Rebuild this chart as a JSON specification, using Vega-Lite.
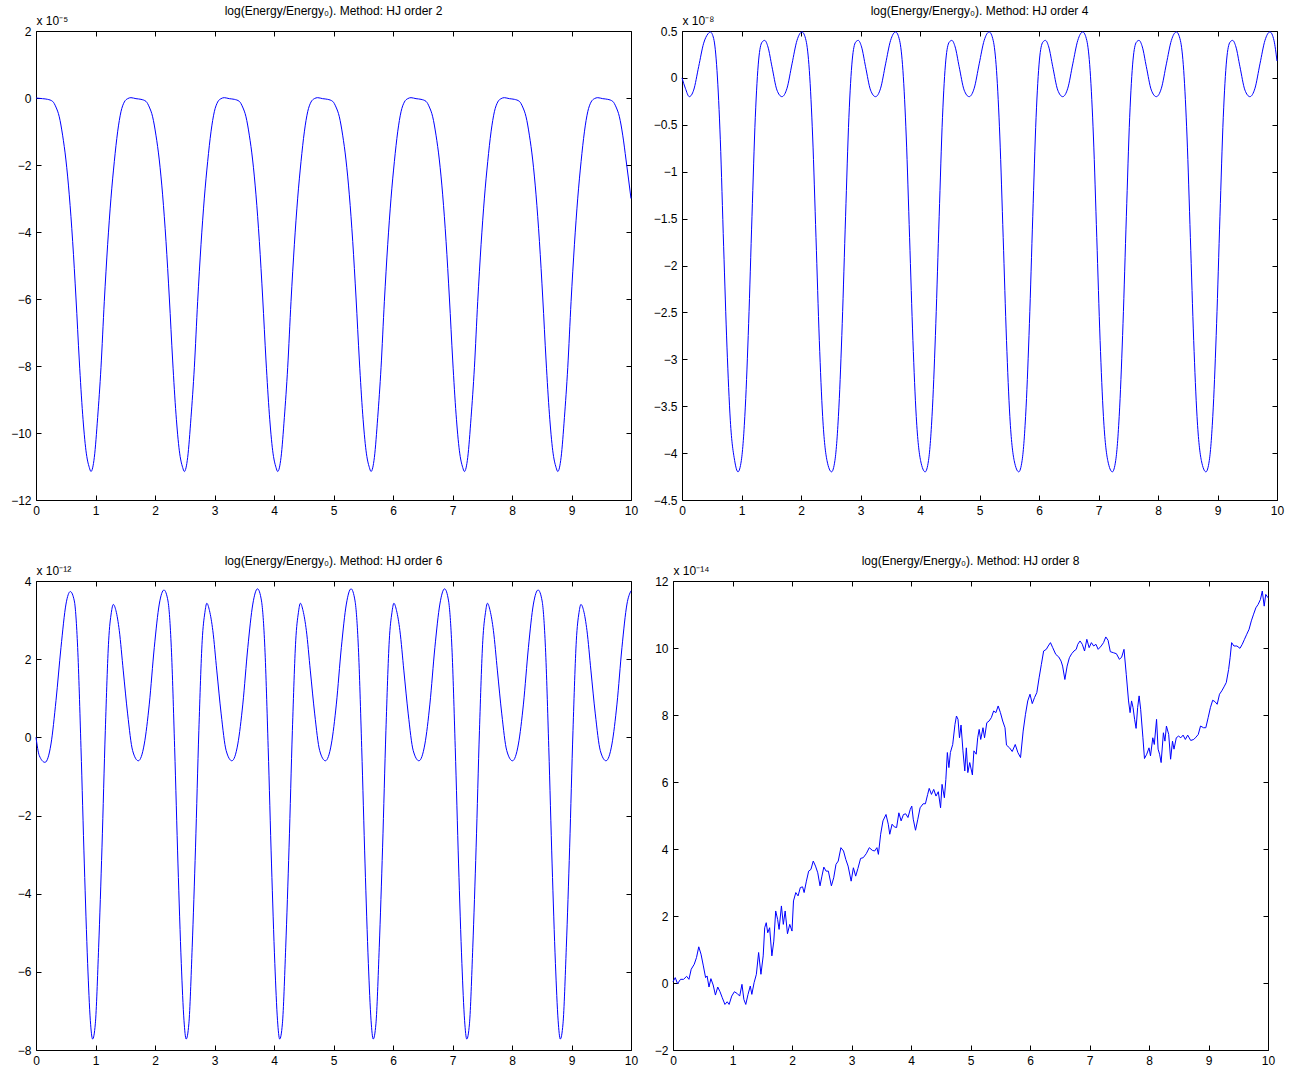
{
"$schema": "https://vega.github.io/schema/vega-lite/v6.json",
"padding": {"left": 10, "top": 4, "right": 5, "bottom": 5},
"background": "white",
"config": {
  "font": "Liberation Sans",
  "view": {"stroke": "#000", "strokeWidth": 1},
  "axis": {"grid": false, "domain": false, "ticks": true, "tickSize": -5, "tickColor": "#000", "tickWidth": 1, "labelFont": "Liberation Sans", "labelFontSize": 12, "labelColor": "#000", "labelPadding": 10, "labelFlush": false, "labelOverlap": false, "titleFont": "Liberation Sans", "titleFontSize": 12, "titleFontWeight": "normal", "titleColor": "#000"},
  "title": {"font": "Liberation Sans", "fontSize": 12, "fontWeight": "normal", "color": "#000", "anchor": "middle", "offset": -4}
},
"datasets": {
"p1": [
{"x":0,"y":0},{"x":0.111,"y":-0.02},{"x":0.195,"y":-0.04},{"x":0.279,"y":-0.1},{"x":0.335,"y":-0.27},{"x":0.391,"y":-0.56},{"x":0.447,"y":-1.11},{"x":0.503,"y":-1.85},{"x":0.559,"y":-2.89},{"x":0.616,"y":-4.28},{"x":0.672,"y":-5.97},{"x":0.728,"y":-7.85},{"x":0.784,"y":-9.44},{"x":0.84,"y":-10.53},{"x":0.896,"y":-11.03},{"x":0.924,"y":-11.15},
{"x":0.98,"y":-10.73},{"x":1.036,"y":-9.54},{"x":1.092,"y":-8.05},{"x":1.148,"y":-6.07},{"x":1.204,"y":-4.38},{"x":1.26,"y":-2.99},{"x":1.316,"y":-1.9},{"x":1.372,"y":-1.01},{"x":1.428,"y":-0.41},{"x":1.484,"y":-0.12},{"x":1.54,"y":-0.02},{"x":1.596,"y":0.01},{"x":1.68,"y":-0.02},{"x":1.764,"y":-0.04},{"x":1.848,"y":-0.1},{"x":1.904,"y":-0.27},{"x":1.96,"y":-0.56},{"x":2.016,"y":-1.11},{"x":2.072,"y":-1.85},{"x":2.128,"y":-2.89},{"x":2.185,"y":-4.28},{"x":2.241,"y":-5.97},{"x":2.297,"y":-7.85},{"x":2.353,"y":-9.44},{"x":2.409,"y":-10.53},{"x":2.465,"y":-11.03},{"x":2.493,"y":-11.15},
{"x":2.549,"y":-10.73},{"x":2.605,"y":-9.54},{"x":2.661,"y":-8.05},{"x":2.717,"y":-6.07},{"x":2.773,"y":-4.38},{"x":2.829,"y":-2.99},{"x":2.885,"y":-1.9},{"x":2.941,"y":-1.01},{"x":2.997,"y":-0.41},{"x":3.053,"y":-0.12},{"x":3.109,"y":-0.02},{"x":3.165,"y":0.01},{"x":3.249,"y":-0.02},{"x":3.333,"y":-0.04},{"x":3.417,"y":-0.1},{"x":3.473,"y":-0.27},{"x":3.529,"y":-0.56},{"x":3.585,"y":-1.11},{"x":3.641,"y":-1.85},{"x":3.697,"y":-2.89},{"x":3.754,"y":-4.28},{"x":3.81,"y":-5.97},{"x":3.866,"y":-7.85},{"x":3.922,"y":-9.44},{"x":3.978,"y":-10.53},{"x":4.034,"y":-11.03},{"x":4.062,"y":-11.15},
{"x":4.118,"y":-10.73},{"x":4.174,"y":-9.54},{"x":4.23,"y":-8.05},{"x":4.286,"y":-6.07},{"x":4.342,"y":-4.38},{"x":4.398,"y":-2.99},{"x":4.454,"y":-1.9},{"x":4.51,"y":-1.01},{"x":4.566,"y":-0.41},{"x":4.622,"y":-0.12},{"x":4.678,"y":-0.02},{"x":4.734,"y":0.01},{"x":4.818,"y":-0.02},{"x":4.902,"y":-0.04},{"x":4.986,"y":-0.1},{"x":5.042,"y":-0.27},{"x":5.098,"y":-0.56},{"x":5.154,"y":-1.11},{"x":5.21,"y":-1.85},{"x":5.266,"y":-2.89},{"x":5.323,"y":-4.28},{"x":5.379,"y":-5.97},{"x":5.435,"y":-7.85},{"x":5.491,"y":-9.44},{"x":5.547,"y":-10.53},{"x":5.603,"y":-11.03},{"x":5.631,"y":-11.15},
{"x":5.687,"y":-10.73},{"x":5.743,"y":-9.54},{"x":5.799,"y":-8.05},{"x":5.855,"y":-6.07},{"x":5.911,"y":-4.38},{"x":5.967,"y":-2.99},{"x":6.023,"y":-1.9},{"x":6.079,"y":-1.01},{"x":6.135,"y":-0.41},{"x":6.191,"y":-0.12},{"x":6.247,"y":-0.02},{"x":6.303,"y":0.01},{"x":6.387,"y":-0.02},{"x":6.471,"y":-0.04},{"x":6.555,"y":-0.1},{"x":6.611,"y":-0.27},{"x":6.667,"y":-0.56},{"x":6.723,"y":-1.11},{"x":6.779,"y":-1.85},{"x":6.835,"y":-2.89},{"x":6.892,"y":-4.28},{"x":6.948,"y":-5.97},{"x":7.004,"y":-7.85},{"x":7.06,"y":-9.44},{"x":7.116,"y":-10.53},{"x":7.172,"y":-11.03},{"x":7.2,"y":-11.15},
{"x":7.256,"y":-10.73},{"x":7.312,"y":-9.54},{"x":7.368,"y":-8.05},{"x":7.424,"y":-6.07},{"x":7.48,"y":-4.38},{"x":7.536,"y":-2.99},{"x":7.592,"y":-1.9},{"x":7.648,"y":-1.01},{"x":7.704,"y":-0.41},{"x":7.76,"y":-0.12},{"x":7.816,"y":-0.02},{"x":7.872,"y":0.01},{"x":7.956,"y":-0.02},{"x":8.04,"y":-0.04},{"x":8.124,"y":-0.1},{"x":8.18,"y":-0.27},{"x":8.236,"y":-0.56},{"x":8.292,"y":-1.11},{"x":8.348,"y":-1.85},{"x":8.404,"y":-2.89},{"x":8.461,"y":-4.28},{"x":8.517,"y":-5.97},{"x":8.573,"y":-7.85},{"x":8.629,"y":-9.44},{"x":8.685,"y":-10.53},{"x":8.741,"y":-11.03},{"x":8.769,"y":-11.15},
{"x":8.825,"y":-10.73},{"x":8.881,"y":-9.54},{"x":8.937,"y":-8.05},{"x":8.993,"y":-6.07},{"x":9.049,"y":-4.38},{"x":9.105,"y":-2.99},{"x":9.161,"y":-1.9},{"x":9.217,"y":-1.01},{"x":9.273,"y":-0.41},{"x":9.329,"y":-0.12},{"x":9.385,"y":-0.02},{"x":9.441,"y":0.01},{"x":9.525,"y":-0.02},{"x":9.609,"y":-0.04},{"x":9.693,"y":-0.1},{"x":9.749,"y":-0.27},{"x":9.805,"y":-0.56},{"x":9.861,"y":-1.11},{"x":9.917,"y":-1.85},{"x":10,"y":-3.0}
],
"p2": [
{"x":0,"y":0},{"x":0.056,"y":-0.11},{"x":0.123,"y":-0.2},{"x":0.196,"y":-0.13},{"x":0.28,"y":0.12},{"x":0.364,"y":0.37},{"x":0.437,"y":0.47},{"x":0.476,"y":0.49},{"x":0.532,"y":0.42},{"x":0.588,"y":0.08},{"x":0.644,"y":-0.66},{"x":0.7,"y":-1.8},{"x":0.756,"y":-2.87},{"x":0.812,"y":-3.65},{"x":0.885,"y":-4.08},{"x":0.941,"y":-4.2},
{"x":0.997,"y":-4.08},{"x":1.064,"y":-3.51},{"x":1.12,"y":-2.62},{"x":1.176,"y":-1.48},{"x":1.232,"y":-0.42},{"x":1.288,"y":0.19},{"x":1.344,"y":0.38},{"x":1.389,"y":0.4},{"x":1.445,"y":0.33},{"x":1.512,"y":0.12},{"x":1.596,"y":-0.13},{"x":1.68,"y":-0.2},{"x":1.765,"y":-0.11},{"x":1.849,"y":0.15},{"x":1.933,"y":0.4},{"x":2.017,"y":0.49},{"x":2.084,"y":0.4},{"x":2.14,"y":0.08},{"x":2.196,"y":-0.63},{"x":2.252,"y":-1.7},{"x":2.308,"y":-2.8},{"x":2.364,"y":-3.61},{"x":2.437,"y":-4.08},{"x":2.514,"y":-4.2},
{"x":2.57,"y":-4.08},{"x":2.637,"y":-3.51},{"x":2.693,"y":-2.62},{"x":2.749,"y":-1.48},{"x":2.805,"y":-0.42},{"x":2.861,"y":0.19},{"x":2.917,"y":0.38},{"x":2.962,"y":0.4},{"x":3.018,"y":0.33},{"x":3.085,"y":0.12},{"x":3.169,"y":-0.13},{"x":3.253,"y":-0.2},{"x":3.338,"y":-0.11},{"x":3.422,"y":0.15},{"x":3.506,"y":0.4},{"x":3.59,"y":0.49},{"x":3.657,"y":0.4},{"x":3.713,"y":0.08},{"x":3.769,"y":-0.63},{"x":3.825,"y":-1.7},{"x":3.881,"y":-2.8},{"x":3.937,"y":-3.61},{"x":4.01,"y":-4.08},{"x":4.087,"y":-4.2},
{"x":4.143,"y":-4.08},{"x":4.21,"y":-3.51},{"x":4.266,"y":-2.62},{"x":4.322,"y":-1.48},{"x":4.378,"y":-0.42},{"x":4.434,"y":0.19},{"x":4.49,"y":0.38},{"x":4.535,"y":0.4},{"x":4.591,"y":0.33},{"x":4.658,"y":0.12},{"x":4.742,"y":-0.13},{"x":4.826,"y":-0.2},{"x":4.911,"y":-0.11},{"x":4.995,"y":0.15},{"x":5.079,"y":0.4},{"x":5.163,"y":0.49},{"x":5.23,"y":0.4},{"x":5.286,"y":0.08},{"x":5.342,"y":-0.63},{"x":5.398,"y":-1.7},{"x":5.454,"y":-2.8},{"x":5.51,"y":-3.61},{"x":5.583,"y":-4.08},{"x":5.66,"y":-4.2},
{"x":5.716,"y":-4.08},{"x":5.783,"y":-3.51},{"x":5.839,"y":-2.62},{"x":5.895,"y":-1.48},{"x":5.951,"y":-0.42},{"x":6.007,"y":0.19},{"x":6.063,"y":0.38},{"x":6.108,"y":0.4},{"x":6.164,"y":0.33},{"x":6.231,"y":0.12},{"x":6.315,"y":-0.13},{"x":6.399,"y":-0.2},{"x":6.484,"y":-0.11},{"x":6.568,"y":0.15},{"x":6.652,"y":0.4},{"x":6.736,"y":0.49},{"x":6.803,"y":0.4},{"x":6.859,"y":0.08},{"x":6.915,"y":-0.63},{"x":6.971,"y":-1.7},{"x":7.027,"y":-2.8},{"x":7.083,"y":-3.61},{"x":7.156,"y":-4.08},{"x":7.233,"y":-4.2},
{"x":7.289,"y":-4.08},{"x":7.356,"y":-3.51},{"x":7.412,"y":-2.62},{"x":7.468,"y":-1.48},{"x":7.524,"y":-0.42},{"x":7.58,"y":0.19},{"x":7.636,"y":0.38},{"x":7.681,"y":0.4},{"x":7.737,"y":0.33},{"x":7.804,"y":0.12},{"x":7.888,"y":-0.13},{"x":7.972,"y":-0.2},{"x":8.057,"y":-0.11},{"x":8.141,"y":0.15},{"x":8.225,"y":0.4},{"x":8.309,"y":0.49},{"x":8.376,"y":0.4},{"x":8.432,"y":0.08},{"x":8.488,"y":-0.63},{"x":8.544,"y":-1.7},{"x":8.6,"y":-2.8},{"x":8.656,"y":-3.61},{"x":8.729,"y":-4.08},{"x":8.806,"y":-4.2},
{"x":8.862,"y":-4.08},{"x":8.929,"y":-3.51},{"x":8.985,"y":-2.62},{"x":9.041,"y":-1.48},{"x":9.097,"y":-0.42},{"x":9.153,"y":0.19},{"x":9.209,"y":0.38},{"x":9.254,"y":0.4},{"x":9.31,"y":0.33},{"x":9.377,"y":0.12},{"x":9.461,"y":-0.13},{"x":9.545,"y":-0.2},{"x":9.63,"y":-0.11},{"x":9.714,"y":0.15},{"x":9.798,"y":0.4},{"x":9.882,"y":0.49},{"x":9.949,"y":0.4},{"x":10,"y":0.18}
],
"p3": [
{"x":0,"y":0},{"x":0.056,"y":-0.47},{"x":0.151,"y":-0.64},{"x":0.252,"y":-0.17},{"x":0.336,"y":0.94},{"x":0.42,"y":2.3},{"x":0.504,"y":3.41},{"x":0.577,"y":3.73},{"x":0.644,"y":3.49},{"x":0.7,"y":2.3},{"x":0.756,"y":-0.26},{"x":0.812,"y":-3.24},{"x":0.868,"y":-5.79},{"x":0.913,"y":-7.24},{"x":0.952,"y":-7.72},
{"x":0.997,"y":-7.33},{"x":1.053,"y":-5.37},{"x":1.109,"y":-2.81},{"x":1.165,"y":0.17},{"x":1.221,"y":2.47},{"x":1.266,"y":3.19},{"x":1.299,"y":3.4},{"x":1.344,"y":3.24},{"x":1.4,"y":2.73},{"x":1.467,"y":1.7},{"x":1.54,"y":0.6},{"x":1.624,"y":-0.34},{"x":1.72,"y":-0.6},{"x":1.82,"y":-0.17},{"x":1.904,"y":0.85},{"x":1.988,"y":2.3},{"x":2.072,"y":3.41},{"x":2.151,"y":3.77},{"x":2.218,"y":3.49},{"x":2.274,"y":2.3},{"x":2.33,"y":-0.26},{"x":2.386,"y":-3.24},{"x":2.442,"y":-5.79},{"x":2.487,"y":-7.24},{"x":2.524,"y":-7.72},
{"x":2.569,"y":-7.33},{"x":2.625,"y":-5.37},{"x":2.681,"y":-2.81},{"x":2.737,"y":0.17},{"x":2.793,"y":2.47},{"x":2.838,"y":3.19},{"x":2.871,"y":3.43},{"x":2.916,"y":3.24},{"x":2.972,"y":2.73},{"x":3.039,"y":1.7},{"x":3.112,"y":0.6},{"x":3.196,"y":-0.34},{"x":3.292,"y":-0.6},{"x":3.392,"y":-0.17},{"x":3.476,"y":0.85},{"x":3.56,"y":2.3},{"x":3.644,"y":3.41},{"x":3.723,"y":3.8},{"x":3.79,"y":3.49},{"x":3.846,"y":2.3},{"x":3.902,"y":-0.26},{"x":3.958,"y":-3.24},{"x":4.014,"y":-5.79},{"x":4.059,"y":-7.24},{"x":4.096,"y":-7.72},
{"x":4.141,"y":-7.33},{"x":4.197,"y":-5.37},{"x":4.253,"y":-2.81},{"x":4.309,"y":0.17},{"x":4.365,"y":2.47},{"x":4.41,"y":3.19},{"x":4.443,"y":3.43},{"x":4.488,"y":3.24},{"x":4.544,"y":2.73},{"x":4.611,"y":1.7},{"x":4.684,"y":0.6},{"x":4.768,"y":-0.34},{"x":4.864,"y":-0.6},{"x":4.964,"y":-0.17},{"x":5.048,"y":0.85},{"x":5.132,"y":2.3},{"x":5.216,"y":3.41},{"x":5.295,"y":3.8},{"x":5.362,"y":3.49},{"x":5.418,"y":2.3},{"x":5.474,"y":-0.26},{"x":5.53,"y":-3.24},{"x":5.586,"y":-5.79},{"x":5.631,"y":-7.24},{"x":5.668,"y":-7.72},
{"x":5.713,"y":-7.33},{"x":5.769,"y":-5.37},{"x":5.825,"y":-2.81},{"x":5.881,"y":0.17},{"x":5.937,"y":2.47},{"x":5.982,"y":3.19},{"x":6.015,"y":3.43},{"x":6.06,"y":3.24},{"x":6.116,"y":2.73},{"x":6.183,"y":1.7},{"x":6.256,"y":0.6},{"x":6.34,"y":-0.34},{"x":6.436,"y":-0.6},{"x":6.536,"y":-0.17},{"x":6.62,"y":0.85},{"x":6.704,"y":2.3},{"x":6.788,"y":3.41},{"x":6.867,"y":3.8},{"x":6.934,"y":3.49},{"x":6.99,"y":2.3},{"x":7.046,"y":-0.26},{"x":7.102,"y":-3.24},{"x":7.158,"y":-5.79},{"x":7.203,"y":-7.24},{"x":7.24,"y":-7.72},
{"x":7.285,"y":-7.33},{"x":7.341,"y":-5.37},{"x":7.397,"y":-2.81},{"x":7.453,"y":0.17},{"x":7.509,"y":2.47},{"x":7.554,"y":3.19},{"x":7.587,"y":3.43},{"x":7.632,"y":3.24},{"x":7.688,"y":2.73},{"x":7.755,"y":1.7},{"x":7.828,"y":0.6},{"x":7.912,"y":-0.34},{"x":8.008,"y":-0.6},{"x":8.108,"y":-0.17},{"x":8.192,"y":0.85},{"x":8.276,"y":2.3},{"x":8.36,"y":3.41},{"x":8.439,"y":3.77},{"x":8.506,"y":3.49},{"x":8.562,"y":2.3},{"x":8.618,"y":-0.26},{"x":8.674,"y":-3.24},{"x":8.73,"y":-5.79},{"x":8.775,"y":-7.24},{"x":8.812,"y":-7.72},
{"x":8.857,"y":-7.33},{"x":8.913,"y":-5.37},{"x":8.969,"y":-2.81},{"x":9.025,"y":0.17},{"x":9.081,"y":2.47},{"x":9.126,"y":3.19},{"x":9.159,"y":3.4},{"x":9.204,"y":3.24},{"x":9.26,"y":2.73},{"x":9.327,"y":1.7},{"x":9.4,"y":0.6},{"x":9.484,"y":-0.34},{"x":9.58,"y":-0.6},{"x":9.68,"y":-0.17},{"x":9.764,"y":0.85},{"x":9.848,"y":2.3},{"x":9.932,"y":3.41},{"x":10,"y":3.75}
],
"p4": [
{"x":0,"y":0.04},{"x":0.038,"y":0.16},{"x":0.076,"y":-0.02},{"x":0.127,"y":0.11},{"x":0.178,"y":0.11},{"x":0.229,"y":0.2},{"x":0.268,"y":0.11},{"x":0.306,"y":0.41},{"x":0.357,"y":0.56},{"x":0.395,"y":0.76},{"x":0.433,"y":1.08},{"x":0.471,"y":0.86},{"x":0.51,"y":0.51},{"x":0.548,"y":0.16},{"x":0.573,"y":0.21},{"x":0.605,"y":-0.12},{"x":0.637,"y":0.13},{"x":0.675,"y":-0.06},{"x":0.713,"y":-0.36},{"x":0.752,"y":-0.12},{"x":0.79,"y":-0.26},{"x":0.828,"y":-0.44},{"x":0.873,"y":-0.64},{"x":0.911,"y":-0.56},{"x":0.943,"y":-0.64},{"x":0.987,"y":-0.39},{"x":1.032,"y":-0.26},{"x":1.083,"y":-0.32},{"x":1.121,"y":-0.39},{"x":1.159,"y":-0.04},{"x":1.191,"y":-0.49},{"x":1.223,"y":-0.64},{"x":1.261,"y":-0.34},{"x":1.299,"y":-0.09},{"x":1.325,"y":-0.34},{"x":1.363,"y":0.01},{"x":1.401,"y":0.26},{"x":1.439,"y":0.91},{"x":1.478,"y":0.26},{"x":1.516,"y":0.81},{"x":1.541,"y":1.65},{"x":1.567,"y":1.8},{"x":1.592,"y":1.5},{"x":1.624,"y":1.65},{"x":1.662,"y":0.81},{"x":1.694,"y":1.25},{"x":1.726,"y":2.15},{"x":1.758,"y":1.9},{"x":1.783,"y":1.6},{"x":1.822,"y":2.3},{"x":1.854,"y":1.75},{"x":1.885,"y":2.15},{"x":1.924,"y":1.47},{"x":1.962,"y":1.75},{"x":2.0,"y":1.55},{"x":2.025,"y":2.45},{"x":2.064,"y":2.7},{"x":2.102,"y":2.6},{"x":2.14,"y":2.85},{"x":2.178,"y":2.87},{"x":2.204,"y":2.7},{"x":2.242,"y":3.04},{"x":2.28,"y":3.34},{"x":2.318,"y":3.39},{"x":2.357,"y":3.64},{"x":2.395,"y":3.49},{"x":2.433,"y":3.29},{"x":2.471,"y":2.9},{"x":2.503,"y":3.19},{"x":2.535,"y":3.46},{"x":2.573,"y":3.34},{"x":2.611,"y":3.34},{"x":2.662,"y":2.9},{"x":2.701,"y":3.14},{"x":2.739,"y":3.54},{"x":2.777,"y":3.64},{"x":2.822,"y":4.04},{"x":2.866,"y":3.94},{"x":2.904,"y":3.69},{"x":2.943,"y":3.49},{"x":2.994,"y":3.04},{"x":3.032,"y":3.44},{"x":3.07,"y":3.19},{"x":3.108,"y":3.42},{"x":3.153,"y":3.72},{"x":3.197,"y":3.74},{"x":3.248,"y":3.86},{"x":3.299,"y":4.04},{"x":3.35,"y":3.96},{"x":3.389,"y":3.94},{"x":3.427,"y":4.04},{"x":3.452,"y":3.84},{"x":3.49,"y":4.44},{"x":3.529,"y":4.84},{"x":3.58,"y":5.03},{"x":3.618,"y":4.74},{"x":3.643,"y":4.44},{"x":3.682,"y":4.74},{"x":3.72,"y":4.66},{"x":3.758,"y":4.64},{"x":3.796,"y":5.08},{"x":3.834,"y":4.84},{"x":3.873,"y":5.03},{"x":3.911,"y":5.05},{"x":3.949,"y":4.94},{"x":3.987,"y":5.18},{"x":4.013,"y":5.28},{"x":4.038,"y":4.89},{"x":4.076,"y":4.56},{"x":4.115,"y":4.89},{"x":4.153,"y":5.23},{"x":4.204,"y":5.35},{"x":4.242,"y":5.35},{"x":4.28,"y":5.63},{"x":4.306,"y":5.81},{"x":4.344,"y":5.63},{"x":4.382,"y":5.78},{"x":4.42,"y":5.58},{"x":4.459,"y":5.71},{"x":4.497,"y":5.23},{"x":4.522,"y":5.93},{"x":4.561,"y":5.53},{"x":4.586,"y":6.08},{"x":4.611,"y":6.88},{"x":4.637,"y":6.43},{"x":4.662,"y":6.88},{"x":4.701,"y":7.12},{"x":4.739,"y":7.72},{"x":4.764,"y":7.97},{"x":4.79,"y":7.87},{"x":4.815,"y":7.32},{"x":4.841,"y":7.7},{"x":4.873,"y":6.93},{"x":4.904,"y":6.33},{"x":4.93,"y":7.02},{"x":4.955,"y":6.28},{"x":4.987,"y":6.58},{"x":5.032,"y":6.21},{"x":5.057,"y":6.93},{"x":5.096,"y":6.83},{"x":5.121,"y":7.32},{"x":5.146,"y":7.57},{"x":5.172,"y":7.27},{"x":5.21,"y":7.62},{"x":5.236,"y":7.32},{"x":5.274,"y":7.77},{"x":5.312,"y":7.82},{"x":5.35,"y":7.92},{"x":5.389,"y":8.12},{"x":5.427,"y":8.07},{"x":5.465,"y":8.27},{"x":5.503,"y":8.07},{"x":5.541,"y":7.82},{"x":5.58,"y":7.62},{"x":5.605,"y":7.1},{"x":5.656,"y":7.02},{"x":5.701,"y":6.91},{"x":5.752,"y":7.12},{"x":5.796,"y":6.88},{"x":5.841,"y":6.73},{"x":5.885,"y":7.52},{"x":5.924,"y":8.02},{"x":5.962,"y":8.42},{"x":6.0,"y":8.62},{"x":6.038,"y":8.34},{"x":6.076,"y":8.52},{"x":6.115,"y":8.67},{"x":6.153,"y":9.11},{"x":6.191,"y":9.51},{"x":6.229,"y":9.91},{"x":6.274,"y":9.96},{"x":6.306,"y":10.06},{"x":6.344,"y":10.16},{"x":6.382,"y":10.01},{"x":6.433,"y":9.81},{"x":6.484,"y":9.73},{"x":6.522,"y":9.61},{"x":6.548,"y":9.46},{"x":6.586,"y":9.06},{"x":6.624,"y":9.46},{"x":6.662,"y":9.71},{"x":6.701,"y":9.83},{"x":6.739,"y":9.91},{"x":6.777,"y":9.96},{"x":6.803,"y":10.11},{"x":6.841,"y":10.21},{"x":6.879,"y":10.11},{"x":6.917,"y":9.91},{"x":6.955,"y":10.26},{"x":6.994,"y":10.01},{"x":7.032,"y":10.16},{"x":7.07,"y":10.06},{"x":7.108,"y":10.11},{"x":7.146,"y":9.96},{"x":7.197,"y":10.06},{"x":7.236,"y":10.16},{"x":7.274,"y":10.33},{"x":7.312,"y":10.23},{"x":7.35,"y":9.89},{"x":7.401,"y":9.86},{"x":7.452,"y":9.83},{"x":7.503,"y":9.66},{"x":7.541,"y":9.73},{"x":7.58,"y":9.96},{"x":7.618,"y":9.21},{"x":7.656,"y":8.42},{"x":7.682,"y":8.07},{"x":7.707,"y":8.42},{"x":7.732,"y":8.22},{"x":7.758,"y":7.87},{"x":7.783,"y":7.6},{"x":7.809,"y":8.22},{"x":7.834,"y":8.57},{"x":7.86,"y":8.17},{"x":7.898,"y":7.32},{"x":7.924,"y":6.7},{"x":7.962,"y":6.83},{"x":8.0,"y":7.02},{"x":8.025,"y":6.78},{"x":8.064,"y":7.32},{"x":8.089,"y":7.12},{"x":8.127,"y":7.87},{"x":8.153,"y":6.98},{"x":8.178,"y":6.83},{"x":8.204,"y":6.58},{"x":8.242,"y":7.47},{"x":8.268,"y":7.22},{"x":8.293,"y":7.67},{"x":8.331,"y":7.42},{"x":8.363,"y":6.68},{"x":8.395,"y":7.22},{"x":8.42,"y":6.98},{"x":8.459,"y":7.32},{"x":8.497,"y":7.37},{"x":8.535,"y":7.32},{"x":8.573,"y":7.4},{"x":8.611,"y":7.27},{"x":8.65,"y":7.4},{"x":8.701,"y":7.24},{"x":8.752,"y":7.27},{"x":8.79,"y":7.34},{"x":8.828,"y":7.42},{"x":8.866,"y":7.67},{"x":8.917,"y":7.62},{"x":8.955,"y":7.62},{"x":8.994,"y":7.92},{"x":9.032,"y":8.22},{"x":9.07,"y":8.44},{"x":9.108,"y":8.4},{"x":9.146,"y":8.32},{"x":9.185,"y":8.62},{"x":9.223,"y":8.72},{"x":9.261,"y":8.84},{"x":9.299,"y":8.97},{"x":9.338,"y":9.36},{"x":9.363,"y":9.71},{"x":9.389,"y":10.16},{"x":9.427,"y":10.06},{"x":9.478,"y":10.06},{"x":9.529,"y":9.99},{"x":9.567,"y":10.11},{"x":9.605,"y":10.26},{"x":9.643,"y":10.41},{"x":9.682,"y":10.56},{"x":9.72,"y":10.81},{"x":9.758,"y":11.01},{"x":9.796,"y":11.2},{"x":9.834,"y":11.3},{"x":9.873,"y":11.45},{"x":9.904,"y":11.7},{"x":9.936,"y":11.25},{"x":9.962,"y":11.6},{"x":10,"y":11.5}
]
},
"vconcat": [
{"hconcat": [
{"width": 595, "height": 469, "title": "log(Energy/Energy₀). Method: HJ order 2", "data": {"name": "p1"},
 "layer": [
  {"mark": {"type": "line", "color": "#0000ff", "strokeWidth": 1, "interpolate": "monotone"},
   "encoding": {
    "x": {"field": "x", "type": "quantitative", "scale": {"domain": [0, 10], "nice": false, "zero": false}, "axis": {"orient": "bottom", "values": [0,1,2,3,4,5,6,7,8,9,10], "title": null, "format": "d"}},
    "y": {"field": "y", "type": "quantitative", "scale": {"domain": [-12, 2], "nice": false, "zero": false}, "axis": {"orient": "left", "values": [-12,-10,-8,-6,-4,-2,0,2], "format": "d", "title": "x 10⁻⁵", "titleAngle": 0, "titleX": 0, "titleY": -7, "titleAlign": "left", "titleBaseline": "alphabetic"}}
   }},
  {"mark": {"type": "line", "opacity": 0},
   "encoding": {
    "x": {"field": "x", "type": "quantitative", "axis": {"orient": "top", "values": [0,1,2,3,4,5,6,7,8,9,10], "labels": false, "title": null}},
    "y": {"field": "y", "type": "quantitative", "axis": {"orient": "right", "values": [-12,-10,-8,-6,-4,-2,0,2], "labels": false, "title": null}}
   }}
 ],
 "resolve": {"axis": {"x": "independent", "y": "independent"}}
},
{"width": 595, "height": 469, "title": "log(Energy/Energy₀). Method: HJ order 4", "data": {"name": "p2"},
 "layer": [
  {"mark": {"type": "line", "color": "#0000ff", "strokeWidth": 1, "interpolate": "monotone"},
   "encoding": {
    "x": {"field": "x", "type": "quantitative", "scale": {"domain": [0, 10], "nice": false, "zero": false}, "axis": {"orient": "bottom", "values": [0,1,2,3,4,5,6,7,8,9,10], "title": null, "format": "d"}},
    "y": {"field": "y", "type": "quantitative", "scale": {"domain": [-4.5, 0.5], "nice": false, "zero": false}, "axis": {"orient": "left", "values": [-4.5,-4,-3.5,-3,-2.5,-2,-1.5,-1,-0.5,0,0.5], "format": "~g", "title": "x 10⁻⁸", "titleAngle": 0, "titleX": 0, "titleY": -7, "titleAlign": "left", "titleBaseline": "alphabetic"}}
   }},
  {"mark": {"type": "line", "opacity": 0},
   "encoding": {
    "x": {"field": "x", "type": "quantitative", "axis": {"orient": "top", "values": [0,1,2,3,4,5,6,7,8,9,10], "labels": false, "title": null}},
    "y": {"field": "y", "type": "quantitative", "axis": {"orient": "right", "values": [-4.5,-4,-3.5,-3,-2.5,-2,-1.5,-1,-0.5,0,0.5], "labels": false, "title": null}}
   }}
 ],
 "resolve": {"axis": {"x": "independent", "y": "independent"}}
}
], "spacing": 13},
{"hconcat": [
{"width": 595, "height": 469, "title": "log(Energy/Energy₀). Method: HJ order 6", "data": {"name": "p3"},
 "layer": [
  {"mark": {"type": "line", "color": "#0000ff", "strokeWidth": 1, "interpolate": "monotone"},
   "encoding": {
    "x": {"field": "x", "type": "quantitative", "scale": {"domain": [0, 10], "nice": false, "zero": false}, "axis": {"orient": "bottom", "values": [0,1,2,3,4,5,6,7,8,9,10], "title": null, "format": "d"}},
    "y": {"field": "y", "type": "quantitative", "scale": {"domain": [-8, 4], "nice": false, "zero": false}, "axis": {"orient": "left", "values": [-8,-6,-4,-2,0,2,4], "format": "d", "title": "x 10⁻¹²", "titleAngle": 0, "titleX": 0, "titleY": -7, "titleAlign": "left", "titleBaseline": "alphabetic"}}
   }},
  {"mark": {"type": "line", "opacity": 0},
   "encoding": {
    "x": {"field": "x", "type": "quantitative", "axis": {"orient": "top", "values": [0,1,2,3,4,5,6,7,8,9,10], "labels": false, "title": null}},
    "y": {"field": "y", "type": "quantitative", "axis": {"orient": "right", "values": [-8,-6,-4,-2,0,2,4], "labels": false, "title": null}}
   }}
 ],
 "resolve": {"axis": {"x": "independent", "y": "independent"}}
},
{"width": 595, "height": 469, "title": "log(Energy/Energy₀). Method: HJ order 8", "data": {"name": "p4"},
 "layer": [
  {"mark": {"type": "line", "color": "#0000ff", "strokeWidth": 1},
   "encoding": {
    "x": {"field": "x", "type": "quantitative", "scale": {"domain": [0, 10], "nice": false, "zero": false}, "axis": {"orient": "bottom", "values": [0,1,2,3,4,5,6,7,8,9,10], "title": null, "format": "d"}},
    "y": {"field": "y", "type": "quantitative", "scale": {"domain": [-2, 12], "nice": false, "zero": false}, "axis": {"orient": "left", "values": [-2,0,2,4,6,8,10,12], "format": "d", "title": "x 10⁻¹⁴", "titleAngle": 0, "titleX": 0, "titleY": -7, "titleAlign": "left", "titleBaseline": "alphabetic"}}
   }},
  {"mark": {"type": "line", "opacity": 0},
   "encoding": {
    "x": {"field": "x", "type": "quantitative", "axis": {"orient": "top", "values": [0,1,2,3,4,5,6,7,8,9,10], "labels": false, "title": null}},
    "y": {"field": "y", "type": "quantitative", "axis": {"orient": "right", "values": [-2,0,2,4,6,8,10,12], "labels": false, "title": null}}
   }}
 ],
 "resolve": {"axis": {"x": "independent", "y": "independent"}}
}
], "spacing": 14}
],
"spacing": 37
}
